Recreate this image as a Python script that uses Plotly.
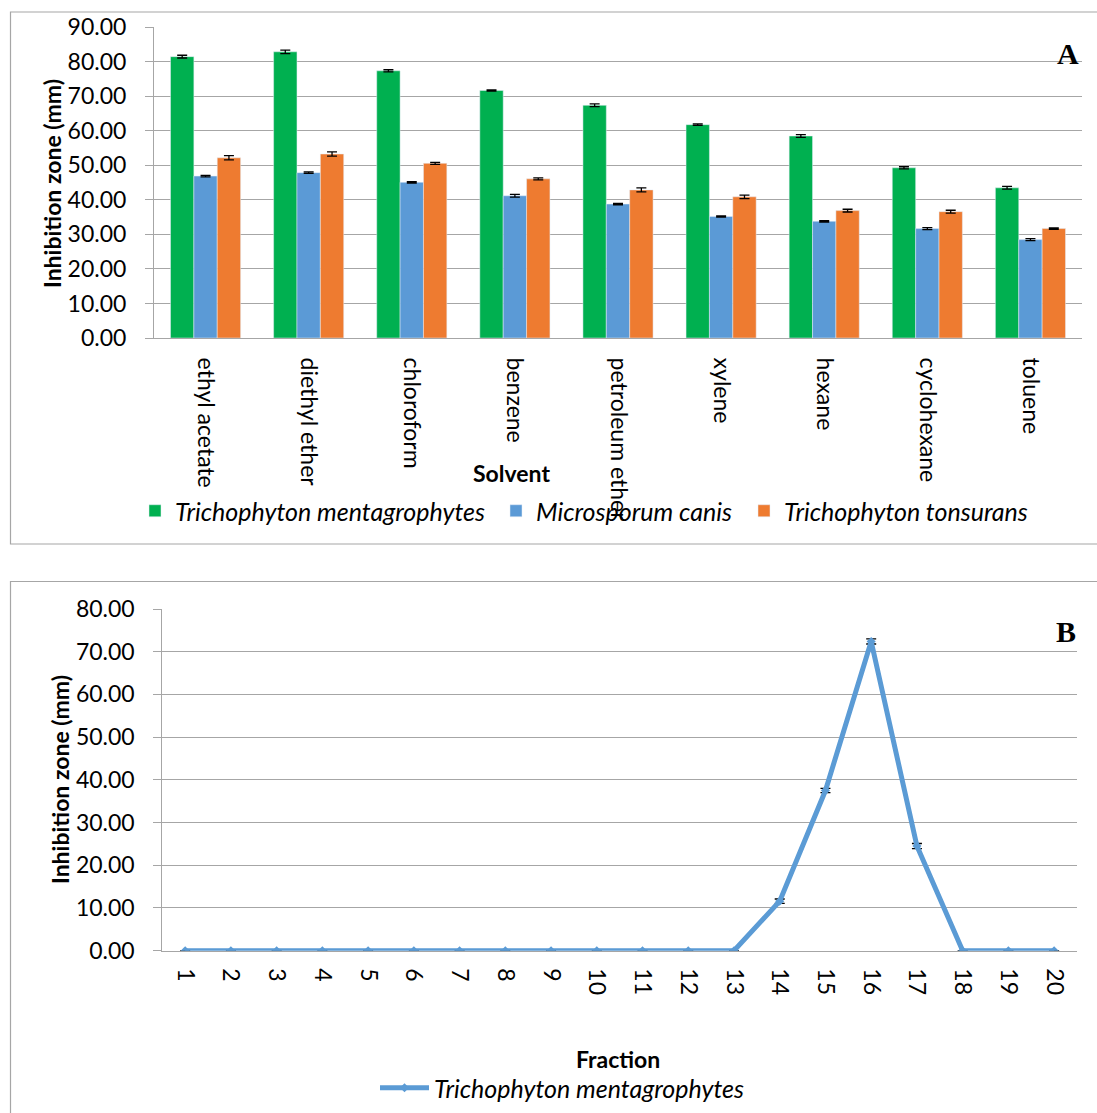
import plotly.graph_objects as go

# ---------------- data ----------------
solvents = ["ethyl acetate", "diethyl ether", "chloroform", "benzene", "petroleum ether",
            "xylene", "hexane", "cyclohexane", "toluene"]
tm_vals = [81.5, 82.9, 77.4, 71.7, 67.4, 61.8, 58.5, 49.3, 43.5]
tm_err = [0.4, 0.5, 0.3, 0.2, 0.4, 0.2, 0.4, 0.3, 0.4]
mc_vals = [46.9, 47.9, 45.1, 41.2, 38.8, 35.2, 33.8, 31.7, 28.5]
mc_err = [0.2, 0.2, 0.2, 0.4, 0.2, 0.2, 0.2, 0.3, 0.3]
tt_vals = [52.2, 53.3, 50.6, 46.1, 42.9, 40.9, 36.9, 36.6, 31.7]
tt_err = [0.6, 0.6, 0.3, 0.3, 0.6, 0.5, 0.4, 0.4, 0.2]

fractions = [str(i) for i in range(1, 21)]
frac_vals = [0, 0, 0, 0, 0, 0, 0, 0, 0, 0, 0, 0, 0, 11.6, 37.5, 72.4, 24.5, 0, 0, 0]
frac_err = [0, 0, 0, 0, 0, 0, 0, 0, 0, 0, 0, 0, 0, 0.5, 0.5, 0.6, 0.6, 0, 0, 0]

ytick_a = [0, 10, 20, 30, 40, 50, 60, 70, 80, 90]
ytick_b = [0, 10, 20, 30, 40, 50, 60, 70, 80]

# ---------------- layout helpers ----------------
W, H = 1097, 1113
FONT = "Lato"
GRID = "#a6a6a6"


def px(x):
    return x / W


def py(y):
    return 1 - y / H


fig = go.Figure()

err_style = dict(type="data", color="black", thickness=1.3, width=5, visible=True)

fig.add_trace(go.Bar(x=solvents, y=tm_vals, name="Trichophyton mentagrophytes",
                     marker=dict(color="#00b050"),
                     error_y=dict(array=tm_err, **err_style),
                     xaxis="x", yaxis="y", legend="legend"))
fig.add_trace(go.Bar(x=solvents, y=mc_vals, name="Microsporum canis",
                     marker=dict(color="#5b9ad6"),
                     error_y=dict(array=mc_err, **err_style),
                     xaxis="x", yaxis="y", legend="legend2"))
fig.add_trace(go.Bar(x=solvents, y=tt_vals, name="Trichophyton tonsurans",
                     marker=dict(color="#ee7b30"),
                     error_y=dict(array=tt_err, **err_style),
                     xaxis="x", yaxis="y", legend="legend3"))

fig.add_trace(go.Scatter(x=fractions, y=frac_vals, mode="lines+markers",
                         name="Trichophyton mentagrophytes",
                         line=dict(color="#5b9bd5", width=5),
                         marker=dict(symbol="diamond", size=7, color="#5b9bd5"),
                         error_y=dict(array=frac_err, **err_style),
                         xaxis="x2", yaxis="y2", legend="legend4"))

tickfont = dict(family=FONT, size=23, color="#000000")
LEG_FONT = dict(family=FONT, size=25, style="italic", color="black")


def leg(x, y, **kw):
    d = dict(orientation="h", x=px(x), y=py(y), xanchor="left", yanchor="top",
             font=LEG_FONT, bgcolor="rgba(0,0,0,0)", itemclick=False)
    d.update(kw)
    return d


fig.update_layout(
    width=W, height=H,
    margin=dict(l=0, r=0, t=0, b=0),
    paper_bgcolor="white", plot_bgcolor="white",
    barmode="group", bargap=0.32, bargroupgap=0,
    font=dict(family=FONT, color="black"),
    xaxis=dict(domain=[px(154), px(1082)], anchor="y", type="category",
               tickangle=90, tickfont=tickfont, showgrid=False,
               showline=True, linecolor=GRID, linewidth=1, ticks="",
               ticklabelstandoff=14, automargin=False),
    yaxis=dict(domain=[py(338), py(27.3)], anchor="x", range=[0, 90],
               tickvals=ytick_a, tickformat=".2f", tickfont=tickfont,
               showgrid=True, gridcolor=GRID, gridwidth=1,
               showline=True, linecolor=GRID, linewidth=1,
               ticks="outside", ticklen=8, tickcolor=GRID,
               ticklabelstandoff=14, zeroline=False, automargin=False),
    xaxis2=dict(domain=[px(162.3), px(1077)], anchor="y2", type="category",
                range=[-0.5, 19.5],
                tickangle=90, tickfont=tickfont, showgrid=False,
                showline=True, linecolor=GRID, linewidth=1, ticks="",
                ticklabelstandoff=12, automargin=False),
    yaxis2=dict(domain=[py(950.7), py(609)], anchor="x2", range=[0, 80],
                tickvals=ytick_b, tickformat=".2f", tickfont=tickfont,
                showgrid=True, gridcolor=GRID, gridwidth=1,
                showline=True, linecolor=GRID, linewidth=1,
                ticks="outside", ticklen=8, tickcolor=GRID,
                ticklabelstandoff=14, zeroline=False, automargin=False),
    legend=leg(135, 488),
    legend2=leg(496, 488),
    legend3=leg(744, 488),
    legend4=leg(375, 1065, itemwidth=49),
    showlegend=True,
)

# panel borders
fig.add_shape(type="rect", xref="paper", yref="paper",
              x0=px(10.5), x1=px(1105), y0=py(544), y1=py(12),
              line=dict(color=GRID, width=1.2), layer="below")
fig.add_shape(type="rect", xref="paper", yref="paper",
              x0=px(10.5), x1=px(1105), y0=py(1125), y1=py(581.5),
              line=dict(color=GRID, width=1.2), layer="below")

ann = []
ann.append(dict(text="<b>Inhibition zone (mm)</b>", x=px(52), y=py(184), textangle=-90,
                font=dict(family=FONT, size=23)))
ann.append(dict(text="<b>Solvent</b>", x=px(511), y=py(473),
                font=dict(family=FONT, size=23)))
ann.append(dict(text="<b>Inhibition zone (mm)</b>", x=px(60), y=py(780), textangle=-90,
                font=dict(family=FONT, size=23)))
ann.append(dict(text="<b>Fraction</b>", x=px(618), y=py(1059),
                font=dict(family=FONT, size=23)))
ann.append(dict(text="<b>A</b>", x=px(1068), y=py(54),
                font=dict(family="Liberation Serif", size=30)))
ann.append(dict(text="<b>B</b>", x=px(1066), y=py(631),
                font=dict(family="Liberation Serif", size=30)))
for a in ann:
    a.update(xref="paper", yref="paper", showarrow=False, xanchor="center", yanchor="middle")
fig.update_layout(annotations=ann)

fig.write_html("out.html", config={"displayModeBar": False},
               post_script="document.body.style.margin='0px';")
